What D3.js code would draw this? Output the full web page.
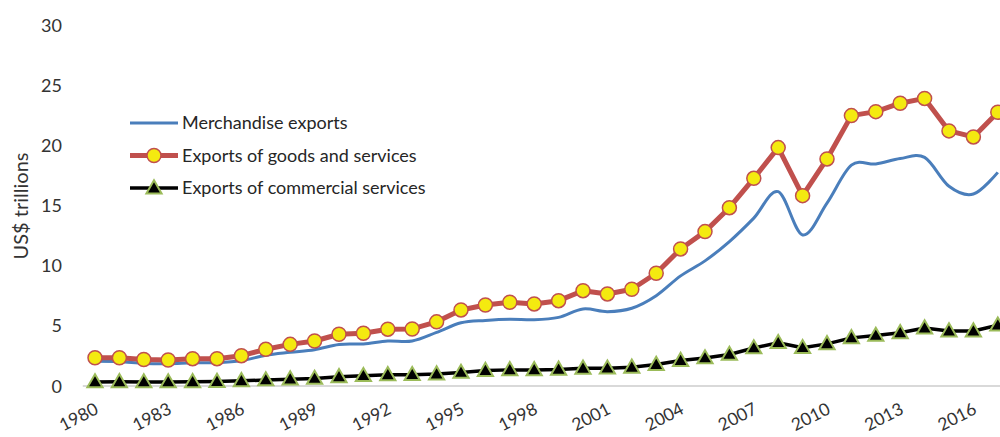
<!DOCTYPE html>
<html>
<head>
<meta charset="utf-8">
<script src="https://cdn.jsdelivr.net/npm/d3@7"></script>
<style>
  html, body { margin: 0; padding: 0; background: #fff; overflow: hidden; }
  svg { display: block; font-family: Lato, "Open Sans", sans-serif; }
</style>
</head>
<body>
<svg id="chart" width="1000" height="437"></svg>
<script>
// World exports, 1980-2017 (US$ trillions)
const years = d3.range(1980, 2018);

const merchandise = [
  2.05, 2.02, 1.88, 1.85, 1.93, 1.94, 2.1, 2.55, 2.8, 3.02,
  3.45, 3.5, 3.74, 3.74, 4.45, 5.25, 5.45, 5.55, 5.5, 5.7,
  6.4, 6.18, 6.46, 7.5, 9.15, 10.4, 12.0, 13.95, 16.15, 12.55,
  15.2, 18.35, 18.45, 18.9, 19.0, 16.6, 15.95, 17.75
];

const goodsServices = [
  2.35, 2.35, 2.2, 2.16, 2.27, 2.27, 2.52, 3.05, 3.46, 3.74,
  4.3, 4.38, 4.72, 4.74, 5.33, 6.32, 6.73, 6.96, 6.82, 7.09,
  7.92, 7.65, 8.04, 9.37, 11.39, 12.83, 14.82, 17.26, 19.81, 15.82,
  18.87, 22.47, 22.8, 23.5, 23.9, 21.2, 20.7, 22.75
];

const commercialServices = [
  0.34, 0.35, 0.34, 0.34, 0.35, 0.37, 0.43, 0.5, 0.57, 0.63,
  0.76, 0.86, 0.93, 0.94, 0.99, 1.13, 1.28, 1.34, 1.34, 1.38,
  1.47, 1.48, 1.55, 1.78, 2.12, 2.33, 2.62, 3.16, 3.6, 3.18,
  3.5, 4.0, 4.2, 4.42, 4.82, 4.57, 4.57, 5.05
];

const yTicks = [0, 5, 10, 15, 20, 25, 30];
const xTickYears = d3.range(1980, 2018, 3);

const seriesNames = [
  "Merchandise exports",
  "Exports of goods and services",
  "Exports of commercial services"
];

const svg = d3.select("#chart");

const x = d3.scaleBand()
  .domain(years)
  .range([82.8, 1010])
  .padding(0);
const xc = d => x(d) + x.bandwidth() / 2;

const y = d3.scaleLinear()
  .domain([0, 30])
  .range([386, 25]);

// Y axis: labels only
const yAxis = d3.axisLeft(y).tickValues(yTicks).tickSize(0).tickPadding(0);
const gy = svg.append("g").attr("transform", "translate(62,0)").call(yAxis);
gy.select(".domain").remove();
gy.selectAll("text")
  .attr("font-family", "Lato, sans-serif")
  .attr("font-size", 18)
  .attr("fill", "#333")
  .attr("dy", "0.34em");

// Y axis title
svg.append("text")
  .attr("transform", "translate(28,206) rotate(-90)")
  .attr("text-anchor", "middle")
  .attr("font-size", 20)
  .attr("fill", "#333")
  .text("US$ trillions");

// X axis baseline
svg.append("line")
  .attr("x1", x.range()[0]).attr("x2", x.range()[1])
  .attr("y1", y(0)).attr("y2", y(0))
  .attr("stroke", "#d9d9d9").attr("stroke-width", 2);

// X axis labels (rotated)
const xAxis = d3.axisBottom(d3.scalePoint().domain(years).range([xc(1980), xc(2017)]))
  .tickValues(xTickYears).tickSize(0).tickPadding(0);
const gx = svg.append("g").attr("transform", `translate(0,${y(0)})`).call(xAxis);
gx.select(".domain").remove();
gx.selectAll("text")
  .attr("font-family", "Lato, sans-serif")
  .attr("font-size", 17.5)
  .attr("fill", "#333")
  .attr("text-anchor", "end")
  .attr("dy", null)
  .attr("y", null)
  .attr("transform", "translate(4,27) rotate(-27)");

// Lines
const smoothLine = d3.line()
  .x((d, i) => xc(years[i]))
  .y(d => y(d))
  .curve(d3.curveCardinal.tension(0));

const straightLine = d3.line()
  .x((d, i) => xc(years[i]))
  .y(d => y(d));

svg.append("path")
  .datum(merchandise)
  .attr("fill", "none")
  .attr("stroke", "#4a7ebb")
  .attr("stroke-width", 3)
  .attr("d", smoothLine);

svg.append("path")
  .datum(goodsServices)
  .attr("fill", "none")
  .attr("stroke", "#c0504d")
  .attr("stroke-width", 5)
  .attr("stroke-linejoin", "round")
  .attr("d", straightLine);

svg.append("g").selectAll("circle")
  .data(goodsServices)
  .join("circle")
  .attr("cx", (d, i) => xc(years[i]))
  .attr("cy", d => y(d))
  .attr("r", 7)
  .attr("fill", "#f4ea10")
  .attr("stroke", "#c0504d")
  .attr("stroke-width", 1.5);

svg.append("path")
  .datum(commercialServices)
  .attr("fill", "none")
  .attr("stroke", "#000")
  .attr("stroke-width", 3.5)
  .attr("stroke-linejoin", "round")
  .attr("d", straightLine);

const tri = d3.symbol().type(d3.symbolTriangle).size(100);
svg.append("g").selectAll("path")
  .data(commercialServices)
  .join("path")
  .attr("d", tri)
  .attr("transform", (d, i) => `translate(${xc(years[i])},${y(d) + 1})`)
  .attr("fill", "#000")
  .attr("stroke", "#9bbb59")
  .attr("stroke-width", 2);

// Legend
const legend = svg.append("g").attr("transform", "translate(130,123)");
const rowGap = 32.5;

legend.append("line")
  .attr("x1", 0).attr("x2", 48).attr("y1", 0).attr("y2", 0)
  .attr("stroke", "#4a7ebb").attr("stroke-width", 3);

legend.append("line")
  .attr("x1", 0).attr("x2", 48).attr("y1", rowGap).attr("y2", rowGap)
  .attr("stroke", "#c0504d").attr("stroke-width", 5);
legend.append("circle")
  .attr("cx", 24).attr("cy", rowGap).attr("r", 7)
  .attr("fill", "#f4ea10").attr("stroke", "#c0504d").attr("stroke-width", 1.5);

legend.append("line")
  .attr("x1", 0).attr("x2", 48).attr("y1", rowGap * 2).attr("y2", rowGap * 2)
  .attr("stroke", "#000").attr("stroke-width", 3.5);
legend.append("path")
  .attr("d", tri)
  .attr("transform", `translate(24,${rowGap * 2 + 1})`)
  .attr("fill", "#000").attr("stroke", "#9bbb59").attr("stroke-width", 2);

legend.selectAll("text.lbl")
  .data(seriesNames)
  .join("text")
  .attr("class", "lbl")
  .attr("x", 52)
  .attr("y", (d, i) => i * rowGap)
  .attr("dy", "0.35em")
  .attr("font-size", 18)
  .attr("fill", "#262626")
  .text(d => d);
</script>
</body>
</html>
